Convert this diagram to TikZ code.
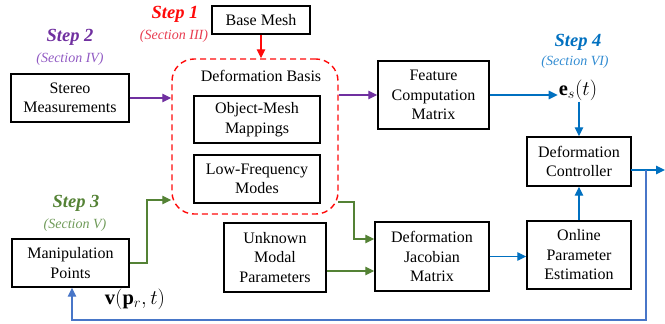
\documentclass[tikz,border=0pt]{standalone}
\usepackage{fontspec}
\setmainfont{Liberation Serif}
\usetikzlibrary{arrows.meta,calc}
\definecolor{cred}{RGB}{255,10,10}
\definecolor{cred2}{RGB}{232,60,80}
\definecolor{cpur}{RGB}{112,48,160}
\definecolor{cpur2}{RGB}{145,90,195}
\definecolor{cgrn}{RGB}{84,130,53}
\definecolor{cgrn2}{RGB}{112,155,90}
\definecolor{cblu}{RGB}{0,112,192}
\definecolor{cblu2}{RGB}{50,140,210}
\definecolor{cfb}{RGB}{72,118,200}
\tikzset{
  blk/.style={draw=black,line width=1.4pt,fill=white,align=center,inner sep=0pt,
    font=\fontsize{16}{19.5}\selectfont},
  steplbl/.style={font=\fontsize{18.5}{20}\selectfont\bfseries\itshape},
  seclbl/.style={font=\fontsize{14}{16}\selectfont\itshape},
  arr/.style={line width=1.3pt,-{Triangle[length=9pt,width=8.5pt]}},
  ln/.style={line width=1.3pt}
}
\begin{document}
\begin{tikzpicture}[x=1pt,y=-1pt]
\useasboundingbox (0,0) rectangle (665,324);
% boxes
\node[blk,minimum width=98pt,minimum height=28pt] (base) at (261,20) {Base Mesh};
\node[blk,minimum width=118pt,minimum height=48pt] (stereo) at (70,98) {Stereo\\Measurements};
\node[draw=cred,line width=1.4pt,dash pattern=on 6pt off 4pt,rounded corners=22pt,
  minimum width=166pt,minimum height=155pt] (basis) at (255,136.5) {};
\node[font=\fontsize{16}{19.5}\selectfont] (basistxt) at (261,76) {Deformation Basis};
\node[blk,minimum width=126pt,minimum height=47pt] (objmesh) at (257,119.5) {Object-Mesh\\Mappings};
\node[blk,minimum width=126pt,minimum height=48pt] (lowfreq) at (257,179) {Low-Frequency\\Modes};
\node[blk,minimum width=111pt,minimum height=68pt] (feature) at (433.5,95) {Feature\\Computation\\Matrix};
\node[blk,minimum width=104pt,minimum height=49pt] (ctrl) at (579,161.5) {Deformation\\Controller};
\node[blk,minimum width=117pt,minimum height=48pt] (manip) at (70.5,263) {Manipulation\\Points};
\node[blk,minimum width=102pt,minimum height=69pt] (unknown) at (275,257.5) {Unknown\\Modal\\Parameters};
\node[blk,minimum width=114pt,minimum height=69pt] (jac) at (432,256.5) {Deformation\\Jacobian\\Matrix};
\node[blk,minimum width=104pt,minimum height=68pt] (online) at (579,255) {Online\\Parameter\\Estimation};
% math labels
\node[font=\fontsize{20.5}{22}\selectfont,inner sep=1pt] (es) at (578,90) {$\mathbf{e}_s(t)$};
\node[font=\fontsize{20.5}{22}\selectfont] (vlbl) at (135,299) {$\mathbf{v}(\mathbf{p}_r,t)$};
% step labels
\node[steplbl,text=cred] (s1) at (175,14) {Step 1};
\node[seclbl,text=cred2] (s1s) at (174,36) {(Section III)};
\node[steplbl,text=cpur] (s2) at (70,37) {Step 2};
\node[seclbl,text=cpur2] (s2s) at (70,59) {(Section IV)};
\node[steplbl,text=cgrn] (s3) at (76,203) {Step 3};
\node[seclbl,text=cgrn2] (s3s) at (75,225) {(Section V)};
\node[steplbl,text=cblu] (s4) at (578,42) {Step 4};
\node[seclbl,text=cblu2] (s4s) at (575,62) {(Section VI)};
% coordinates
\coordinate (gA) at (147,263);
\coordinate (gB) at (147,200);
\coordinate (gC) at (338,202);
\coordinate (gD) at (354,202);
\coordinate (gE) at (354,239);
\coordinate (outS) at (631,170);
\coordinate (outE) at (665,170);
\coordinate (fbA) at (646,170);
\coordinate (fbB) at (646,320);
\coordinate (fbC) at (72,320);
% connectors
\draw[arr,draw=cred] (base.south) -- (basis.north -| base.south);
\draw[arr,draw=cpur] (stereo.east) -- (stereo.east -| basis.west);
\draw[arr,draw=cpur] (feature.west -| basis.east) -- (feature.west);
\draw[arr,draw=cblu] (feature.east) -- (es.west |- feature.east);
\draw[arr,draw=cblu] (es.south -| ctrl.north) -- (ctrl.north);
\draw[arr,draw=cblu] (online.north) -- (ctrl.south);
\draw[arr,draw=cblu] (jac.east) -- (jac.east -| online.west);
\draw[arr,draw=cgrn] (unknown.east |- 0,271) -- (jac.west |- 0,271);
\draw[arr,draw=cgrn] (manip.east) -- (gA) -- (gB) -- (gB -| basis.west);
\draw[arr,draw=cgrn] (gC) -- (gD) -- (gE) -- (gE -| jac.west);
\draw[arr,draw=cblu] (outS) -- (outE);
\draw[arr,draw=cfb] (fbA) -- (fbB) -- (fbC) -- (fbC |- manip.south);
\end{tikzpicture}
\end{document}
